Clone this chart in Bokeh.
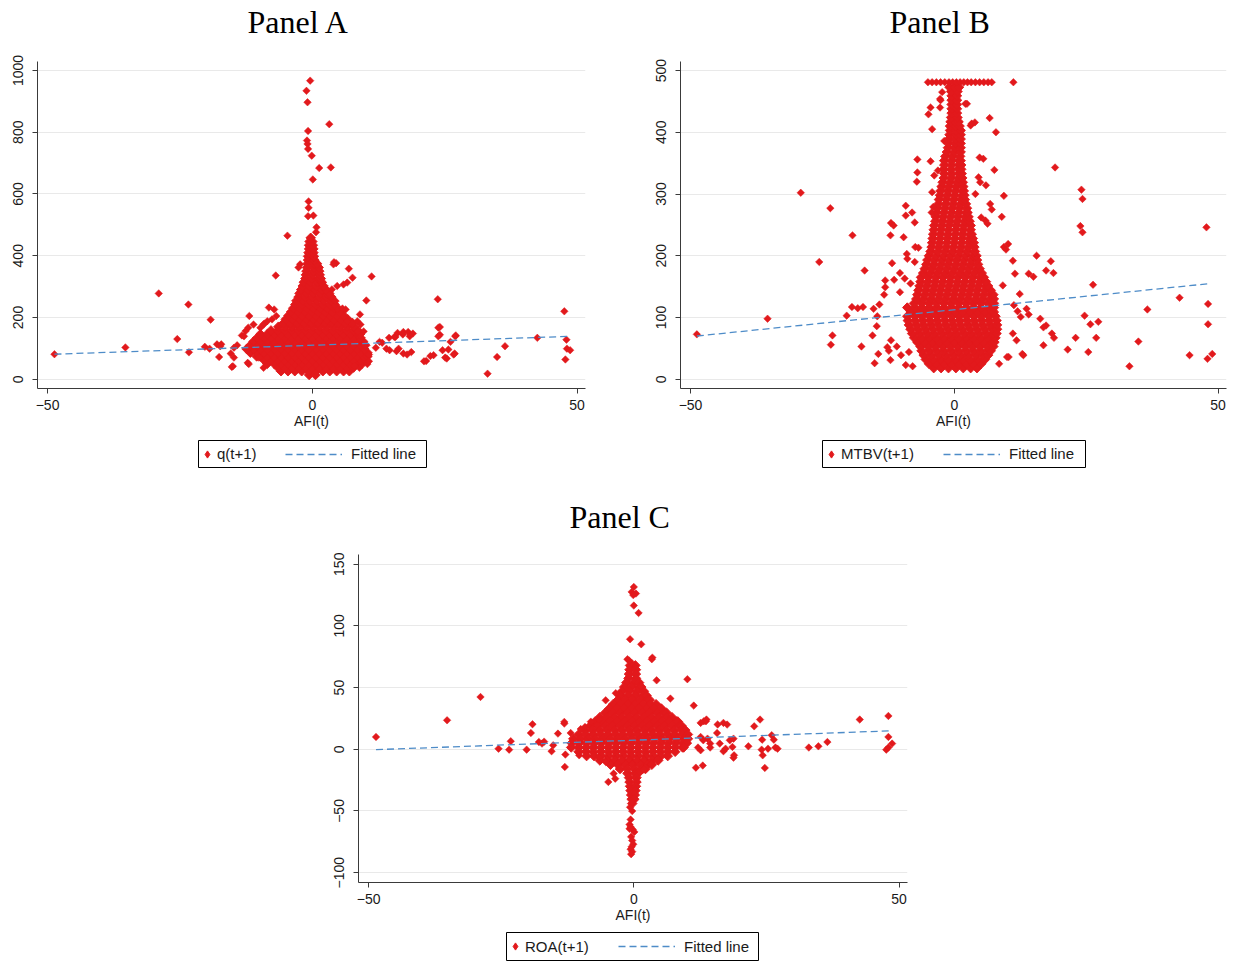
import math
from bokeh.plotting import figure
from bokeh.models import Range1d, Legend, LegendItem, FixedTicker, Spacer, Title
from bokeh.layouts import column, row
from bokeh.embed import file_html
from bokeh.resources import INLINE

# ---------------- data ----------------
x_ticks = [-50, 0, 50]
a_y_ticks = [0, 200, 400, 600, 800, 1000]
b_y_ticks = [0, 100, 200, 300, 400, 500]
c_y_ticks = [-100, -50, 0, 50, 100, 150]

# Panel A: q(t+1) vs AFI(t)
a_outliers = [(-48.7, 81), (-35.3, 103), (-29, 278), (-23.4, 242), (-25.5, 130), (-23.3, 87), (-19.2, 193),
              (-20.3, 105), (-19.4, 99), (-17.6, 72), (-18, 113), (-17.2, 113), (-15, 42), (-15.4, 83),
              (-14.2, 110), (-12.2, 53), (-11.9, 205), (-12.1, 167), (-13.3, 142), (-9.1, 180), (-8.2, 232),
              (-6.9, 336), (-4.7, 465), (-0.4, 967), (-1.1, 934), (-0.9, 897), (3.2, 826), (-0.8, 804),
              (-1, 773), (-0.9, 762), (-0.8, 746), (-0.1, 724), (1.3, 684), (3.5, 686), (0.1, 647),
              (-0.7, 576), (-0.7, 555), (-0.8, 528), (0.2, 530), (0.8, 492), (0.7, 476), (11.2, 333),
              (10.2, 255), (6.9, 358), (7.6, 329), (4.1, 379), (4.5, 376), (9, 210), (23.7, 259), (24.1, 169),
              (24.1, 144), (27.1, 142), (17.2, 153), (18.1, 153), (19, 148), (15.7, 137), (16.3, 99),
              (17.2, 83), (18.7, 88), (21.5, 59), (22.9, 78), (25.4, 67), (24.6, 94), (26.1, 121), (26.9, 83),
              (33.1, 18), (34.9, 72), (36.4, 107), (42.5, 134), (47.6, 220), (48, 128), (47.8, 64), (48.1, 99),
              (48.7, 94), (14, 99), (14.6, 94), (12.7, 121), (15.5, 137),
              (-9.2, 177), (-8.5, 188), (-7.6, 194), (-6.8, 205), (-7.2, 226), (-2.3, 372), (-2.6, 362),
              (4.0, 372), (3.7, 291), (4.7, 302), (5.9, 307), (6.6, 313), (4.4, 253), (5.7, 229), (6.3, 226),
              (8.5, 188), (9.1, 177), (9.7, 155), (6.6, 188), (-17.4, 107), (-14.8, 102), (-12.9, 139),
              (-12.6, 156), (-11.1, 177), (-9.8, 167), (-14.8, 70), (-12.0, 49), (-15.2, 40), (-9.2, 37),
              (-10.1, 70), (10.7, 80), (12, 102), (13.2, 118), (14.5, 134), (16.1, 150), (17.1, 145),
              (18.4, 139), (15.9, 91), (17.9, 80), (22.3, 75), (21.1, 58), (23.8, 167), (23.8, 139),
              (25.7, 96), (25.1, 70), (26.7, 80), (27, 139), (10.4, 49), (10.7, 58), (8.9, 37), (8.0, 43)]
a_core_rows = [
    (14, [-0.6, 0.6]),
    (26, [-5.9, -4.6, -3.3, -2.0, -0.7, 0.7, 2.0, 3.3, 4.6, 5.9, 7.0]),
    (38, [-6.5, -5.2, -3.9, -2.6, -1.3, 0.0, 1.3, 2.6, 3.9, 5.2, 6.5, 7.8]),
    (50, [-8.5, -7.2, -5.9, -4.6, -3.3, -2.0, -0.7, 0.7, 2.0, 3.3, 4.6, 5.9, 7.2, 8.5, 9.4]),
    (62, [-9.1, -7.8, -6.5, -5.2, -3.9, -2.6, -1.3, 0.0, 1.3, 2.6, 3.9, 5.2, 6.5, 7.8, 9.1, 10.0]),
    (74, [-10.5, -9.8, -8.5, -7.2, -5.9, -4.6, -3.3, -2.0, -0.7, 0.7, 2.0, 3.3, 4.6, 5.9, 7.2, 8.5, 9.8, 10.4]),
    (86, [-11.7, -10.4, -9.1, -7.8, -6.5, -5.2, -3.9, -2.6, -1.3, 0.0, 1.3, 2.6, 3.9, 5.2, 6.5, 7.8, 9.1, 10.4]),
    (98, [-12.4, -11.1, -9.8, -8.5, -7.2, -5.9, -4.6, -3.3, -2.0, -0.7, 0.7, 2.0, 3.3, 4.6, 5.9, 7.2, 8.5, 9.8]),
    (110, [-11.7, -10.4, -9.1, -7.8, -6.5, -5.2, -3.9, -2.6, -1.3, 0.0, 1.3, 2.6, 3.9, 5.2, 6.5, 7.8, 9.1, 10.0]),
    (122, [-11.1, -9.8, -8.5, -7.2, -5.9, -4.6, -3.3, -2.0, -0.7, 0.7, 2.0, 3.3, 4.6, 5.9, 7.2, 8.5, 9.6]),
    (134, [-10.4, -9.1, -7.8, -6.5, -5.2, -3.9, -2.6, -1.3, 0.0, 1.3, 2.6, 3.9, 5.2, 6.5, 7.8, 9.1]),
    (146, [-9.8, -8.5, -7.2, -5.9, -4.6, -3.3, -2.0, -0.7, 0.7, 2.0, 3.3, 4.6, 5.9, 7.2, 8.5, 9.0]),
    (158, [-7.8, -6.5, -5.2, -3.9, -2.6, -1.3, 0.0, 1.3, 2.6, 3.9, 5.2, 6.5, 7.8, 8.6]),
    (170, [-6.4, -5.1, -3.8, -2.5, -1.2, 0.1, 1.4, 2.7, 4.0, 5.3, 6.6, 7.9]),
    (182, [-5.4, -4.1, -2.8, -1.5, -0.2, 1.1, 2.4, 3.7, 5.0, 6.3, 7.6]),
    (194, [-5.0, -3.7, -2.4, -1.1, 0.2, 1.5, 2.8, 4.1, 5.4, 6.7]),
    (206, [-4.5, -3.2, -1.9, -0.6, 0.7, 2.0, 3.3, 4.6, 5.9]),
    (218, [-4.0, -2.7, -1.4, -0.1, 1.2, 2.5, 3.8, 5.2]),
    (230, [-3.6, -2.3, -1.0, 0.3, 1.6, 2.9, 4.2, 4.8]),
    (242, [-3.2, -1.9, -0.6, 0.7, 2.0, 3.3, 4.2]),
    (254, [-3.0, -1.7, -0.4, 0.9, 2.2, 3.5]),
    (266, [-2.6, -1.3, 0.0, 1.3, 2.6, 3.6]),
    (278, [-2.4, -1.1, 0.2, 1.5, 2.8, 3.2]),
    (290, [-2.1, -0.8, 0.5, 1.8, 2.6]),
    (302, [-1.8, -0.5, 0.8, 2.1]),
    (314, [-1.6, -0.3, 1.0, 1.8]),
    (326, [-1.3, 0.0, 1.3, 1.6]),
    (338, [-1.2, 0.1, 1.4]),
    (350, [-1.1, 0.2, 1.3]),
    (362, [-1.0, 0.3, 1.2]),
    (374, [-0.9, 0.3, 0.9]),
    (386, [-0.8, 0.4]),
    (398, [-0.8, 0.3]),
    (410, [-0.7, 0.2]),
    (422, [-0.6, 0.2]),
    (434, [-0.6, 0.1]),
    (446, [-0.5, 0.0]),
    (458, [-0.3]),
]
a_fit_x = [-48.7, 48.7]
a_fit_y = [81, 139]

# Panel B: MTBV(t+1) vs AFI(t)
b_outliers = [(-48.8, 72.7), (-35.4, 98), (-29.1, 302), (-25.6, 190), (-23.5, 277), (-23.1, 71), (-23.4, 56),
              (-20.4, 103), (-19.4, 117), (-18.3, 115), (-17.3, 117), (-19.3, 233), (-17, 176), (-17.6, 53),
              (-15.5, 71), (-15.3, 114), (-14.6, 102), (-14.2, 121), (-14.7, 86), (-15.1, 26), (-14.4, 41),
              (-13.1, 160), (-13.1, 149), (-13.3, 137), (-12.1, 233), (-12, 253), (-11.5, 249), (-11.8, 188),
              (-12, 63), (-12.1, 31), (-12.7, 52), (-12.4, 46), (-11.4, 161), (-10.9, 53), (-10.3, 141),
              (-10.3, 172), (-10.1, 39), (-9.2, 281), (-9.2, 265), (-9.6, 230), (-9, 203), (-8.9, 195),
              (-8, 270), (-7.5, 254), (-9.4, 163), (-8.3, 155), (-9, 117), (-9.2, 23), (-7.9, 21), (-8.6, 44),
              (-7, 356), (-7, 335), (-7.1, 320), (-7.4, 214), (-6.8, 213), (-7.5, 190), (-6.8, 145),
              (-4.9, 429), (-4.5, 440), (-4.2, 405), (-4.5, 353), (-3.8, 330), (-4.2, 303), (-4.3, 270),
              (-4, 279), (-3.1, 338), (-2.7, 440), (-2.7, 454), (-1.9, 386), (2.4, 446), (3.1, 411), (3.3, 414),
              (6.7, 423), (7.9, 400), (4.8, 359), (5.5, 357), (7.6, 339), (4.6, 327), (4.9, 319), (6.0, 314),
              (4, 300), (6.8, 284), (7.1, 275), (9.4, 297), (9, 263), (5.1, 262), (5.9, 257), (6.3, 252),
              (9.4, 214), (9.8, 210), (10.2, 219), (15.6, 200), (18.3, 191), (19.1, 343), (17.4, 176),
              (18.8, 172), (14.1, 171), (15, 166), (12.4, 138), (24.1, 307), (24.3, 292), (23.9, 248),
              (24.3, 238), (26.3, 153), (24.7, 103), (27.3, 93), (25.8, 89), (26.9, 67), (23, 67), (21.5, 48),
              (25.4, 44), (33.2, 21), (34.9, 61), (36.6, 113), (42.7, 132), (47.8, 246), (48.1, 122),
              (48.1, 89), (44.6, 39), (48, 33), (48.9, 41), (16.3, 98), (17.4, 87), (16.9, 84), (18.5, 74),
              (18.9, 67), (16.9, 55), (12.9, 41), (13.1, 39), (10.3, 36), (8.5, 25), (13.7, 114), (14.1, 105),
              (12, 110), (12.6, 101), (11.3, 120), (11.1, 192), (11.5, 171), (9.2, 152), (11.1, 74),
              (11.8, 63), (10, 36), (-2.3, 465), (-2.6, 452), (2.1, 446), (3.9, 416),
              (-5.0, 481), (-4.2, 481), (-3.4, 481), (-2.6, 481), (-1.8, 481), (-1.0, 481), (-0.3, 481),
              (0.4, 481), (1.1, 481), (1.8, 481), (2.5, 481), (3.2, 481), (4.0, 481), (4.8, 481), (5.6, 481),
              (6.4, 481), (7.1, 481), (11.2, 481)]
b_core_rows = [
    (18, [-3.9, -2.5, -1.1, 0.3, 1.7, 3.1, 4.3]),
    (25, [-4.8, -3.4, -2.0, -0.6, 0.8, 2.2, 3.6, 5.1]),
    (32, [-5.4, -4.0, -2.6, -1.2, 0.2, 1.6, 3.0, 4.4, 5.8]),
    (39, [-5.8, -4.4, -3.0, -1.6, -0.2, 1.2, 2.6, 4.0, 5.4, 6.4]),
    (46, [-6.2, -4.8, -3.4, -2.0, -0.6, 0.8, 2.2, 3.6, 5.0, 6.4, 6.9]),
    (53, [-6.4, -5.0, -3.6, -2.2, -0.8, 0.6, 2.0, 3.4, 4.8, 6.2, 7.4]),
    (60, [-7.0, -5.6, -4.2, -2.8, -1.4, 0.0, 1.4, 2.8, 4.2, 5.6, 7.0, 7.6]),
    (67, [-7.6, -6.2, -4.8, -3.4, -2.0, -0.6, 0.8, 2.2, 3.6, 5.0, 6.4, 7.8]),
    (74, [-8.0, -6.6, -5.2, -3.8, -2.4, -1.0, 0.4, 1.8, 3.2, 4.6, 6.0, 7.4, 8.0]),
    (81, [-8.3, -6.9, -5.5, -4.1, -2.7, -1.3, 0.1, 1.5, 2.9, 4.3, 5.7, 7.1, 8.1]),
    (88, [-8.6, -7.2, -5.8, -4.4, -3.0, -1.6, -0.2, 1.2, 2.6, 4.0, 5.4, 6.8, 8.1]),
    (95, [-8.8, -7.4, -6.0, -4.6, -3.2, -1.8, -0.4, 1.0, 2.4, 3.8, 5.2, 6.6, 8.0]),
    (102, [-8.9, -7.5, -6.1, -4.7, -3.3, -1.9, -0.5, 0.9, 2.3, 3.7, 5.1, 6.5, 7.8]),
    (109, [-8.2, -6.8, -5.4, -4.0, -2.6, -1.2, 0.2, 1.6, 3.0, 4.4, 5.8, 7.2, 7.5]),
    (116, [-8.9, -7.5, -6.1, -4.7, -3.3, -1.9, -0.5, 0.9, 2.3, 3.7, 5.1, 6.5, 7.5]),
    (123, [-7.6, -6.2, -4.8, -3.4, -2.0, -0.6, 0.8, 2.2, 3.6, 5.0, 6.4, 7.5]),
    (130, [-7.2, -5.8, -4.4, -3.0, -1.6, -0.2, 1.2, 2.6, 4.0, 5.4, 6.8, 7.5]),
    (137, [-7.0, -5.6, -4.2, -2.8, -1.4, 0.0, 1.4, 2.8, 4.2, 5.6, 7.0, 7.4]),
    (144, [-6.8, -5.4, -4.0, -2.6, -1.2, 0.2, 1.6, 3.0, 4.4, 5.8, 6.9]),
    (151, [-6.6, -5.2, -3.8, -2.4, -1.0, 0.4, 1.8, 3.2, 4.6, 6.0, 6.4]),
    (158, [-6.4, -5.0, -3.6, -2.2, -0.8, 0.6, 2.0, 3.4, 4.8, 6.0]),
    (165, [-6.3, -4.9, -3.5, -2.1, -0.7, 0.7, 2.1, 3.5, 4.9, 5.6]),
    (172, [-5.9, -4.5, -3.1, -1.7, -0.3, 1.1, 2.5, 3.9, 5.2]),
    (179, [-5.6, -4.2, -2.8, -1.4, 0.0, 1.4, 2.8, 4.2, 4.8]),
    (186, [-5.3, -3.9, -2.5, -1.1, 0.3, 1.7, 3.1, 4.5]),
    (193, [-5.1, -3.7, -2.3, -0.9, 0.5, 1.9, 3.3, 4.3]),
    (200, [-4.8, -3.4, -2.0, -0.6, 0.8, 2.2, 3.6, 4.2]),
    (207, [-4.5, -3.1, -1.7, -0.3, 1.1, 2.5, 3.9]),
    (214, [-4.3, -2.9, -1.5, -0.1, 1.3, 2.7, 3.8]),
    (221, [-4.2, -2.8, -1.4, 0.0, 1.4, 2.8, 3.7]),
    (228, [-4.1, -2.7, -1.3, 0.1, 1.5, 2.9, 3.5]),
    (235, [-4.0, -2.6, -1.2, 0.2, 1.6, 3.0, 3.3]),
    (242, [-3.9, -2.5, -1.1, 0.3, 1.7, 3.1]),
    (249, [-3.8, -2.4, -1.0, 0.4, 1.8, 3.1]),
    (256, [-3.6, -2.2, -0.8, 0.6, 2.0, 2.9]),
    (263, [-3.5, -2.1, -0.7, 0.7, 2.1, 2.7]),
    (270, [-3.3, -1.9, -0.5, 0.9, 2.3, 2.5]),
    (277, [-3.2, -1.8, -0.4, 1.0, 2.4]),
    (284, [-3.0, -1.6, -0.2, 1.2, 2.2]),
    (291, [-2.9, -1.5, -0.1, 1.3, 2.0]),
    (298, [-2.7, -1.3, 0.1, 1.5, 1.9]),
    (305, [-2.6, -1.2, 0.2, 1.6, 1.8]),
    (312, [-2.4, -1.0, 0.4, 1.7]),
    (319, [-2.2, -0.8, 0.6, 1.6]),
    (326, [-2.0, -0.6, 0.8, 1.5]),
    (333, [-1.9, -0.5, 0.9, 1.4]),
    (340, [-2.0, -0.6, 0.8, 1.3]),
    (347, [-1.9, -0.5, 0.9, 1.3]),
    (354, [-1.9, -0.5, 0.9, 1.2]),
    (361, [-1.7, -0.3, 1.1]),
    (368, [-1.4, 0.0, 1.2]),
    (375, [-1.2, 0.1, 1.2]),
    (382, [-1.1, 0.2, 1.2]),
    (389, [-1.0, 0.2, 1.2]),
    (396, [-0.9, 0.3, 1.2]),
    (403, [-0.8, 0.3, 1.2]),
    (410, [-0.8, 0.2, 1.0]),
    (417, [-0.7, 0.2, 0.8]),
    (424, [-0.6, 0.6]),
    (431, [-0.5, 0.5]),
    (438, [-0.5, 0.5]),
    (445, [-0.5, 0.5]),
    (452, [-0.5, 0.5]),
    (459, [-0.5, 0.5]),
    (466, [-0.6, 0.6]),
    (473, [-0.9, 0.1, 0.9]),
]
b_fit_x = [-48.8, 48.1]
b_fit_y = [70, 154.6]

# Panel C: ROA(t+1) vs AFI(t)
c_outliers = [(-48.6, 10), (-35.2, 23.5), (-28.9, 42.4), (-25.5, 0.5), (-23.5, -0.3), (-23.2, 6.5), (-20.2, -0.3),
              (-19.1, 20.3), (-19.4, 13.2), (-17.9, 5.9), (-17.3, 4.6), (-16.9, 6.2), (-15.5, -1.6), (-15.2, 3.2),
              (-14.3, 12.7), (-13.1, 22.2), (-13.1, 20.8), (-12.9, -4.3), (-13, -14.3), (-11.9, 13.2),
              (-10.3, -4.9), (-9.2, 18.1), (-5.3, 39.7), (-6.6, -6.2), (-5.3, -10.3), (-4.8, -26.5),
              (-3.5, -23.8), (-3.8, -19.7), (0, 131.6), (-0.4, 127.6), (0.4, 126.2), (-0.1, 125), (0, 116.5),
              (0.9, 110.5), (-0.7, 89.2), (1.4, 85.1), (3.5, 74.3), (3.4, 73), (4.3, 55.9), (10.1, 56.8),
              (6.9, 41.1), (11.3, 35.4), (12.6, 21.4), (13.7, 24.1), (12.6, 10), (13.1, 7.3), (13.9, 8.6),
              (14.4, 4.6), (12.1, 1.4), (12.6, -0.8), (11.7, -14.9), (13, -13.2), (14.4, 1.4), (15.7, 13.2),
              (16.2, 4.6), (16.9, -1.6), (17.3, 0.5), (16.9, 21.4), (17.6, 20), (18.1, 7.3), (18.8, 8.6),
              (18.6, 1.9), (18.9, -4.9), (18.8, -6.8), (21.6, 2.4), (22.7, 18.6), (23.8, 24.1), (24.2, 7.8),
              (24.1, -0.3), (24.3, -4.9), (25.3, 0.5), (26, 11.4), (26.4, 7.8), (27.1, 0.5), (26.7, 1.4),
              (24.7, -15.1), (33, 1.4), (34.8, 2.4), (36.5, 5.9), (42.6, 24.1), (48, 27), (48, 10),
              (47.6, -0.3), (48, 1.4), (48.7, 4.6), (1.9, -16.4), (-0.3, -50.1), (-0.6, -57), (-0.8, -61),
              (-0.6, -63), (-0.2, -65), (0.1, -67), (-0.5, -71), (-0.3, -74), (-0.1, -77), (-0.4, -79),
              (-0.6, -81), (-0.3, -83), (-0.5, -85), (-0.8, -64.5), (-0.7, -47), (-0.4, 70), (-0.9, 72),
              (-1.2, 73), (13.2, 22.7), (13.6, 22.7), (15.8, 20.1), (-10.0, 16.4), (-8.1, 22.4), (-6.5, 24.0),
              (-3.4, 45.5)]
c_core_rows = [
    (68, [-0.7, 0.3]),
    (64.5, [-0.8, 0.4]),
    (61, [-0.9, 0.4]),
    (57.5, [-1.0, 0.4]),
    (54, [-1.4, 0.0, 1.0]),
    (50.5, [-1.8, -0.4, 1.0, 1.4]),
    (47, [-2.2, -0.8, 0.6, 1.9]),
    (43.5, [-2.5, -1.1, 0.3, 1.7, 2.4]),
    (40, [-3.0, -1.6, -0.2, 1.2, 2.6, 3.0]),
    (36.5, [-3.9, -2.5, -1.1, 0.3, 1.7, 3.1, 4.2]),
    (33, [-4.6, -3.2, -1.8, -0.4, 1.0, 2.4, 3.8, 5.2]),
    (29.5, [-5.4, -4.0, -2.6, -1.2, 0.2, 1.6, 3.0, 4.4, 5.8, 6.2]),
    (26, [-6.4, -5.0, -3.6, -2.2, -0.8, 0.6, 2.0, 3.4, 4.8, 6.2, 7.2]),
    (22.5, [-7.3, -5.9, -4.5, -3.1, -1.7, -0.3, 1.1, 2.5, 3.9, 5.3, 6.7, 8.1, 8.3]),
    (19, [-8.2, -6.8, -5.4, -4.0, -2.6, -1.2, 0.2, 1.6, 3.0, 4.4, 5.8, 7.2, 8.6, 9.0]),
    (15.5, [-9.2, -7.8, -6.4, -5.0, -3.6, -2.2, -0.8, 0.6, 2.0, 3.4, 4.8, 6.2, 7.6, 9.0, 9.7]),
    (12, [-10.4, -9.0, -7.6, -6.2, -4.8, -3.4, -2.0, -0.6, 0.8, 2.2, 3.6, 5.0, 6.4, 7.8, 9.2, 10.2]),
    (8.5, [-11.4, -10.0, -8.6, -7.2, -5.8, -4.4, -3.0, -1.6, -0.2, 1.2, 2.6, 4.0, 5.4, 6.8, 8.2, 9.6, 10.2]),
    (5, [-11.7, -10.3, -8.9, -7.5, -6.1, -4.7, -3.3, -1.9, -0.5, 0.9, 2.3, 3.7, 5.1, 6.5, 7.9, 9.3, 10.0]),
    (1.5, [-11.8, -10.4, -9.0, -7.6, -6.2, -4.8, -3.4, -2.0, -0.6, 0.8, 2.2, 3.6, 5.0, 6.4, 7.8, 9.2, 9.4]),
    (-2, [-10.4, -9.0, -7.6, -6.2, -4.8, -3.4, -2.0, -0.6, 0.8, 2.2, 3.6, 5.0, 6.4, 7.8]),
    (-5.5, [-8.9, -7.5, -6.1, -4.7, -3.3, -1.9, -0.5, 0.9, 2.3, 3.7, 5.1, 6.4]),
    (-9, [-6.4, -5.0, -3.6, -2.2, -0.8, 0.6, 2.0, 3.4, 4.6]),
    (-12.5, [-4.4, -3.0, -1.6, -0.2, 1.2, 2.6, 3.4]),
    (-16, [-2.6, -1.2, 0.2, 1.6, 2.2]),
    (-19.5, [-1.2, 0.2, 0.8]),
    (-23, [-0.9, 0.5]),
    (-26.5, [-0.8, 0.5]),
    (-30, [-0.7, 0.4]),
    (-33.5, [-0.6, 0.3]),
    (-37, [-0.5, 0.2]),
    (-40.5, [-0.4, 0.1]),
    (-44, [-0.3]),
]
c_fit_x = [-48.6, 48.7]
c_fit_y = [-0.3, 15.0]

RED = "#E2191C"
BLUE = "#4E8CC8"
SANS = "Liberation Sans"
SERIF = "Liberation Serif"
DASH = "7 4"


def core_xy(core_rows):
    xs, ys = [], []
    for yv, row_x in core_rows:
        xs.extend(row_x)
        ys.extend([yv] * len(row_x))
    return xs, ys


def panel(title, outliers, core_rows, fit_x, fit_y, y_range, y_ticks,
          height, left, right, top, bottom, gap, title_left):
    p = figure(width=618, height=height, output_backend="svg", toolbar_location=None,
               x_range=Range1d(-51.9, 51.6), y_range=Range1d(*y_range),
               min_border_left=left, min_border_right=right, min_border_top=top, min_border_bottom=bottom)
    # spacer between frame and title, then the title itself
    p.add_layout(Title(text=" ", text_font_size="1px", standoff=gap), "above")
    p.add_layout(Title(text=title, text_font=SERIF, text_font_size="32px", text_font_style="normal",
                       text_color="black", align="left", offset=title_left, standoff=0,
                       vertical_align="bottom"), "above")
    p.outline_line_color = None
    p.background_fill_color = "white"
    p.border_fill_color = "white"

    p.xgrid.grid_line_color = None
    p.ygrid.grid_line_color = "#E9E9E9"
    p.ygrid.grid_line_width = 1.2

    for ax in (p.xaxis[0], p.yaxis[0]):
        ax.axis_line_color = "#3a3a3a"
        ax.major_tick_line_color = "#3a3a3a"
        ax.minor_tick_line_color = None
        ax.major_tick_out = 5
        ax.major_tick_in = 0
        ax.major_label_text_font = SANS
        ax.major_label_text_font_size = "14px"
        ax.major_label_text_color = "#1a1a1a"
    p.xaxis.ticker = FixedTicker(ticks=x_ticks)
    p.yaxis.ticker = FixedTicker(ticks=y_ticks)
    p.yaxis.major_label_orientation = "vertical"
    p.yaxis.major_label_standoff = 9
    p.xaxis.major_label_standoff = 6
    p.xaxis.axis_label = "AFI(t)"
    p.xaxis.axis_label_text_font = SANS
    p.xaxis.axis_label_text_font_size = "14px"
    p.xaxis.axis_label_text_font_style = "normal"
    p.xaxis.axis_label_text_color = "#1a1a1a"
    p.xaxis.axis_label_standoff = 0

    cx, cy = core_xy(core_rows)
    # dense core of overlapping observations (slightly larger marks so the mass reads solid)
    p.scatter(x=cx, y=cy, marker="square", size=6.8, angle=math.pi / 4,
              fill_color=RED, line_color=RED, line_width=0.9)
    # individual observations
    p.scatter(x=[q[0] for q in outliers], y=[q[1] for q in outliers], marker="square", size=5.3,
              angle=math.pi / 4, fill_color=RED, line_color=RED, line_width=0.5)
    p.line(x=fit_x, y=fit_y, line_color=BLUE, line_width=1.3, line_dash=DASH)
    return p


def legend_box(series_label, outliers, fit_x, fit_y, width, height, fit_x0):
    # small boxed legend figure; its view range lies away from the data, so only the keys show
    lf = figure(width=width, height=height, output_backend="svg", toolbar_location=None,
                x_axis_location=None, y_axis_location=None,
                x_range=Range1d(1000, 1001), y_range=Range1d(5000, 5001),
                min_border_left=1, min_border_right=1, min_border_top=1, min_border_bottom=1)
    lf.grid.visible = False
    lf.outline_line_color = "black"
    lf.outline_line_width = 1
    lf.background_fill_color = "white"
    lf.border_fill_color = "white"
    key_pt = lf.scatter(x=[q[0] for q in outliers], y=[q[1] for q in outliers], marker="diamond",
                        fill_color=RED, line_color=RED)
    key_ln = lf.line(x=fit_x, y=fit_y, line_color=BLUE, line_width=1.3, line_dash=DASH)
    common = dict(orientation="horizontal", border_line_color=None, background_fill_alpha=0,
                  padding=0, margin=0, glyph_height=22, label_height=16,
                  label_text_font=SANS, label_text_font_size="15px", label_text_color="#1a1a1a")
    ly = (height - 2 - 22) / 2
    lg1 = Legend(items=[LegendItem(label=series_label, renderers=[key_pt])], location=(0, ly),
                 glyph_width=18, label_standoff=1, **common)
    lg2 = Legend(items=[LegendItem(label="Fitted line", renderers=[key_ln])], location=(fit_x0, ly),
                 glyph_width=57, label_standoff=9, **common)
    lf.add_layout(lg1, "center")
    lf.add_layout(lg2, "center")
    return lf


pA = panel("Panel A", a_outliers, a_core_rows, a_fit_x, a_fit_y, (-30, 1029), a_y_ticks,
           436, 37, 33, 61, 48, 19, 210)
pB = panel("Panel B", b_outliers, b_core_rows, b_fit_x, b_fit_y, (-15, 514.6), b_y_ticks,
           436, 62, 10, 61, 48, 19, 209)
pC = panel("Panel C", c_outliers, c_core_rows, c_fit_x, c_fit_y, (-108, 157.9), c_y_ticks,
           455, 58, 11, 79, 48, 17, 211)

legA = legend_box("q(t+1)", a_outliers, a_fit_x, a_fit_y, 230, 29, 87)
legB = legend_box("MTBV(t+1)", b_outliers, b_fit_x, b_fit_y, 265, 29, 121)
legC = legend_box("ROA(t+1)", c_outliers, c_fit_x, c_fit_y, 254, 30, 112)

layout = column(
    row(pA, pB),
    Spacer(height=3),
    row(Spacer(width=197), legA, Spacer(width=394), legB),
    Spacer(height=7),
    row(Spacer(width=300), pC),
    Spacer(height=1),
    row(Spacer(width=505), legC),
)

with open("out.html", "w") as f:
    f.write(file_html(layout, INLINE))
